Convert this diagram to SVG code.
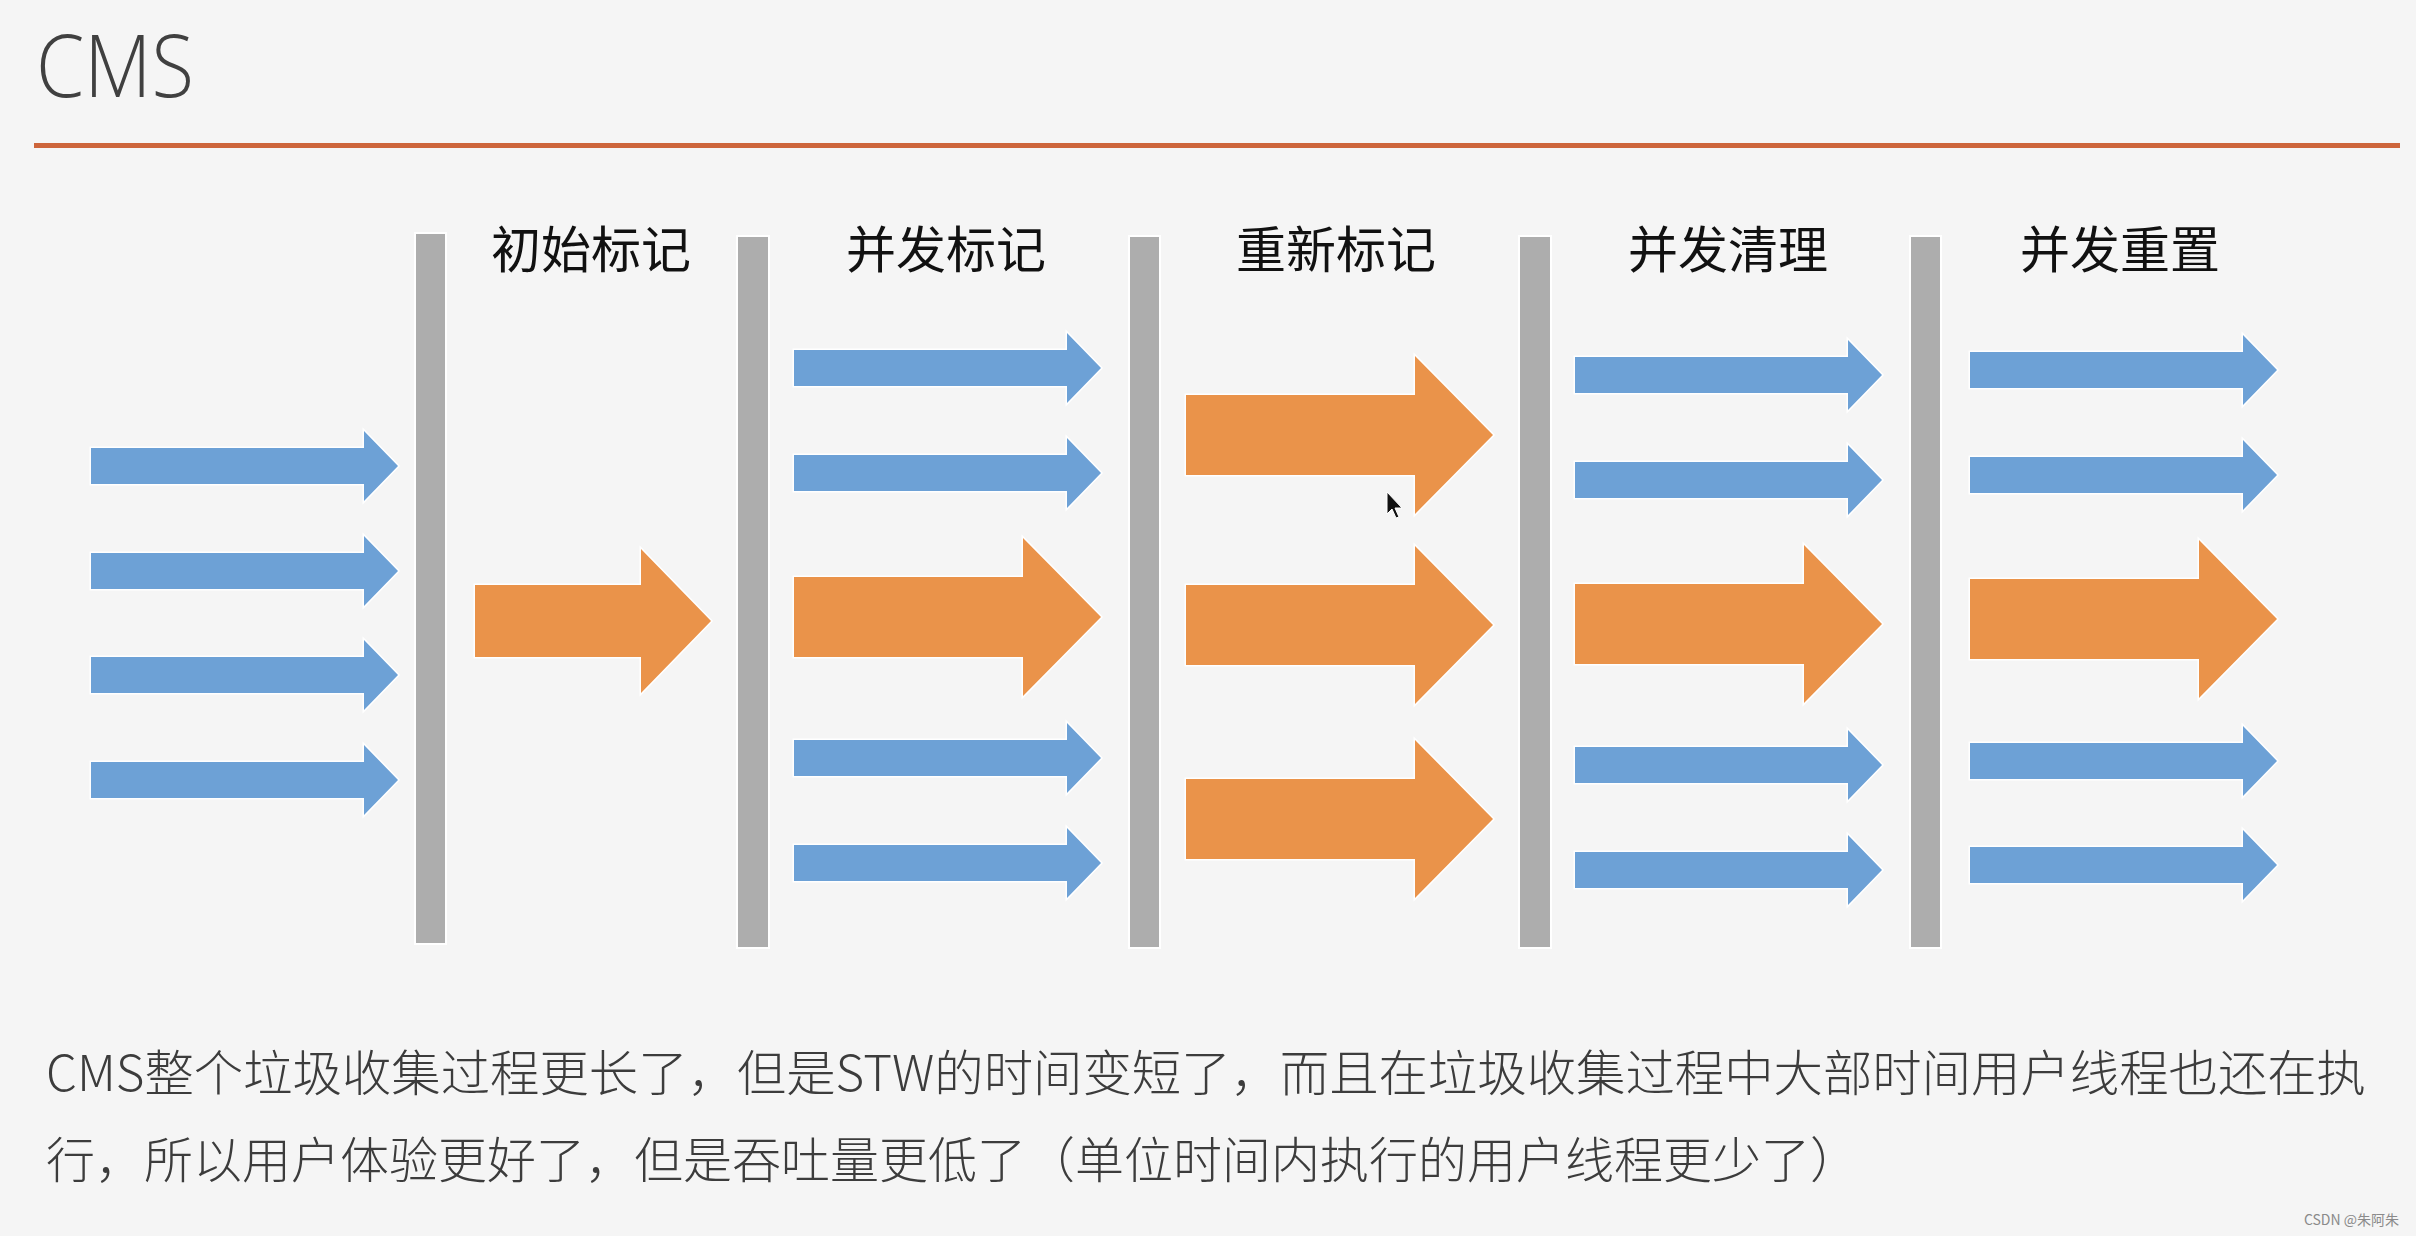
<svg xmlns="http://www.w3.org/2000/svg" width="2416" height="1236" viewBox="0 0 2416 1236">
<style>
.bg{fill:#F5F5F5}
.bar{fill:#ADADAD;stroke:#FFFFFF;stroke-width:2}
.blue{fill:#6DA1D6;stroke:#FFFFFF;stroke-width:3;paint-order:stroke}
.orange{fill:#EA934A;stroke:#FFFFFF;stroke-width:3;paint-order:stroke}
.stage{font-family:"Noto Sans CJK SC","Noto Sans",sans-serif;font-size:50px;fill:#111111;text-anchor:middle}
.body{font-family:"Noto Sans CJK SC","Noto Sans",sans-serif;font-size:49px;font-weight:300;fill:#3C3C3C}
.title{font-family:"Open Sans","Liberation Sans",sans-serif;font-size:87px;font-weight:300;fill:#404040}
.wm{font-family:"Noto Sans CJK SC","Liberation Sans",sans-serif;font-size:14px;fill:#8A8A8A}
</style>
<defs>
<path id="blueArrow" class="blue" d="M0,-18 H273 V-35 L307,0 L273,35 V18 H0 Z"/>
<path id="orangeBig" class="orange" d="M0,-40 H229 V-79 L307,0 L229,79 V40 H0 Z"/>
<path id="orangeSmall" class="orange" d="M0,-36 H166 V-72 L236,0 L166,72 V36 H0 Z"/>
</defs>
<rect class="bg" x="0" y="0" width="2416" height="1236"/>

<g id="header">
<text class="title" x="36" y="97" textLength="158" lengthAdjust="spacingAndGlyphs">CMS</text>
<rect x="34" y="143" width="2366" height="5" fill="#CD653B"/>
</g>

<g id="before">
<use href="#blueArrow" x="91" y="466"/>
<use href="#blueArrow" x="91" y="571"/>
<use href="#blueArrow" x="91" y="675"/>
<use href="#blueArrow" x="91" y="780"/>
</g>

<g id="stage-initial-mark">
<rect class="bar" x="415" y="233" width="31" height="711"/>
<text class="stage" x="591" y="268">初始标记</text>
<use href="#orangeSmall" x="475" y="621"/>
</g>

<g id="stage-concurrent-mark">
<rect class="bar" x="737" y="236" width="32" height="712"/>
<text class="stage" x="946" y="268">并发标记</text>
<use href="#blueArrow" x="794" y="368"/>
<use href="#blueArrow" x="794" y="473"/>
<use href="#orangeBig" x="794" y="617"/>
<use href="#blueArrow" x="794" y="758"/>
<use href="#blueArrow" x="794" y="863"/>
</g>

<g id="stage-remark">
<rect class="bar" x="1129" y="236" width="31" height="712"/>
<text class="stage" x="1336" y="268">重新标记</text>
<use href="#orangeBig" x="1186" y="435"/>
<use href="#orangeBig" x="1186" y="625"/>
<use href="#orangeBig" x="1186" y="819"/>
</g>

<g id="stage-concurrent-sweep">
<rect class="bar" x="1519" y="236" width="32" height="712"/>
<text class="stage" x="1728" y="268">并发清理</text>
<use href="#blueArrow" x="1575" y="375"/>
<use href="#blueArrow" x="1575" y="480"/>
<use href="#orangeBig" x="1575" y="624"/>
<use href="#blueArrow" x="1575" y="765"/>
<use href="#blueArrow" x="1575" y="870"/>
</g>

<g id="stage-concurrent-reset">
<rect class="bar" x="1910" y="236" width="31" height="712"/>
<text class="stage" x="2120" y="268">并发重置</text>
<use href="#blueArrow" x="1970" y="370"/>
<use href="#blueArrow" x="1970" y="475"/>
<use href="#orangeBig" x="1970" y="619"/>
<use href="#blueArrow" x="1970" y="761"/>
<use href="#blueArrow" x="1970" y="865"/>
</g>

<g id="connectors"></g>

<g id="cursor">
<path d="M1387,492 L1387,514 L1392,509 L1396,518 L1399,517 L1395,508 L1402,508 Z" fill="#111" stroke="#fff" stroke-width="1"/>
</g>

<g id="caption">
<text class="body" x="46" y="1091" textLength="2320" lengthAdjust="spacingAndGlyphs">CMS整个垃圾收集过程更长了，但是STW的时间变短了，而且在垃圾收集过程中大部时间用户线程也还在执</text>
<text class="body" x="46" y="1178">行，所以用户体验更好了，但是吞吐量更低了（单位时间内执行的用户线程更少了）</text>
</g>

<g id="watermark">
<text class="wm" x="2399" y="1225" text-anchor="end">CSDN @朱阿朱</text>
</g>
</svg>
